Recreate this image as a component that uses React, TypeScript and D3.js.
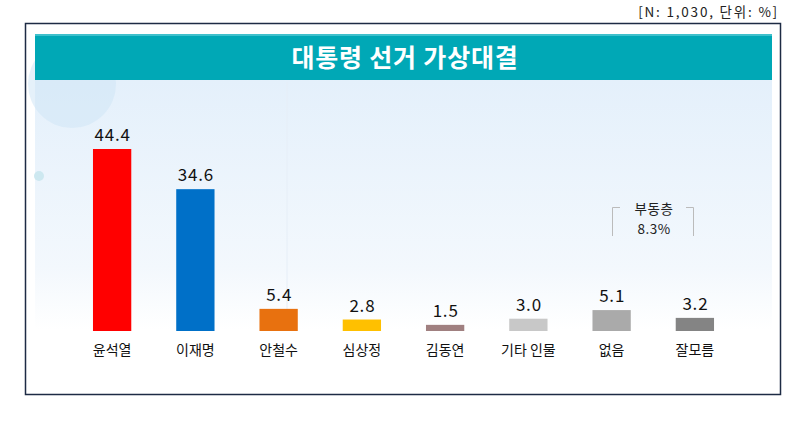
import React from "react";
import * as d3 from "d3";

const categories = ["윤석열", "이재명", "안철수", "심상정", "김동연", "기타 인물", "없음", "잘모름"];
const values = [44.4, 34.6, 5.4, 2.8, 1.5, 3.0, 5.1, 3.2];
const colors = ["#ff0000", "#0070c8", "#e8710f", "#ffc000", "#a08080", "#c8c8c8", "#aaaaaa", "#848484"];
const title = "대통령 선거 가상대결";
const note = "[N: 1,030, 단위: %]";
const undecidedLabel = "부동층";
const undecidedValue = "8.3%";

const W = 805, H = 421;
const FONT = "'Noto Sans CJK KR', 'Noto Sans', sans-serif";

export default function App() {
  const baseY = 331;
  const x = d3.scaleBand<string>().domain(categories).range([70.5, 736.5]).paddingInner(0.54).paddingOuter(0.27);
  const y = d3.scaleLinear().domain([0, 44.4]).range([baseY, 149]);
  return (
    <svg width={W} height={H} style={{ position: "absolute", left: 0, top: 0, fontFamily: FONT }}>
      <defs>
        <linearGradient id="bg" x1="0" y1="0" x2="0" y2="1">
          <stop offset="0" stopColor="#e4f0fb" />
          <stop offset="0.75" stopColor="#f3f8fd" />
          <stop offset="1" stopColor="#ffffff" />
        </linearGradient>
      </defs>
      <rect x={0} y={0} width={W} height={H} fill="#fff" />
      <text x={779} y={17} textAnchor="end" fontSize={13.5} letterSpacing={1.8} fill="#222">{note}</text>
      <rect x={25.5} y={23.5} width={755} height={371} fill="#fff" stroke="#1d2b44" strokeWidth={1.5} />
      <rect x={35} y={80} width={737} height={250} fill="url(#bg)" />
      <circle cx={72} cy={84} r={44} fill="#cfe5f6" opacity={0.55} />
      <circle cx={39} cy={176} r={5} fill="#cde8f0" />
      <line x1={287} y1={82} x2={287} y2={330} stroke="#e6eef7" strokeWidth={1} />
      <rect x={35} y={34} width={737} height={46} fill="#00a8b6" />
      <rect x={35} y={34} width={737} height={2} fill="#3fc0cc" />
      <text x={405} y={67} textAnchor="middle" fontSize={25} fontWeight={700} letterSpacing={0.8} fill="#fff">{title}</text>
      {categories.map((c, i) => {
        const bx = x(c)!;
        const bw = x.bandwidth();
        const cx = bx + bw / 2;
        return (
          <g key={c}>
            <rect x={bx} y={y(values[i])} width={bw} height={baseY - y(values[i])} fill={colors[i]} />
            <text x={cx + 0.5} y={y(values[i]) - 8} textAnchor="middle" fontSize={17} letterSpacing={0.8} fill="#111">{values[i].toFixed(1)}</text>
            <text x={cx} y={355} textAnchor="middle" fontSize={14} fill="#111">{c}</text>
          </g>
        );
      })}
      <path d="M620,207.5 H612.5 V236" fill="none" stroke="#bbb" strokeWidth={1} />
      <path d="M686,207.5 H693.5 V236" fill="none" stroke="#bbb" strokeWidth={1} />
      <text x={654} y={214} textAnchor="middle" fontSize={13.5} letterSpacing={0.5} fill="#222">{undecidedLabel}</text>
      <text x={654} y={234} textAnchor="middle" fontSize={13.5} letterSpacing={0.5} fill="#222">{undecidedValue}</text>
    </svg>
  );
}
